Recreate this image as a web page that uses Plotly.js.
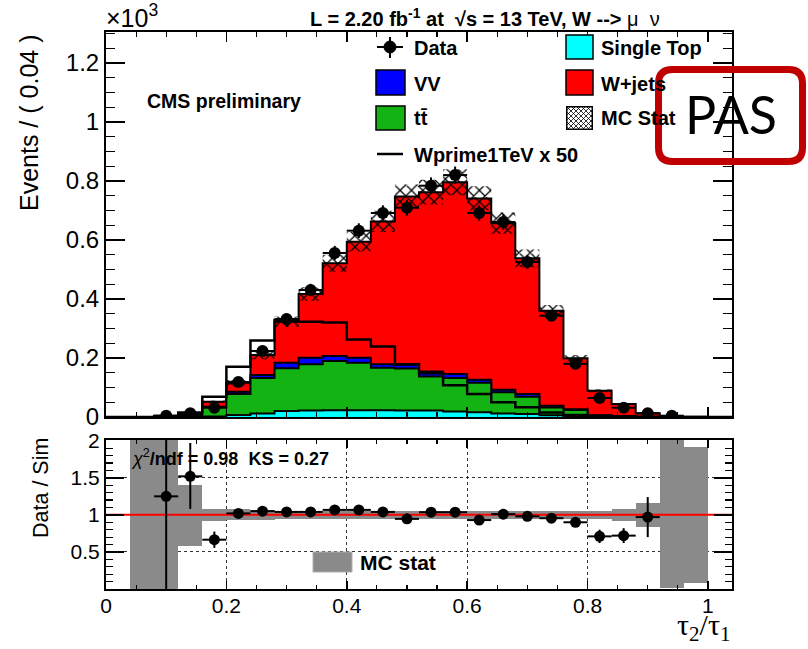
<!DOCTYPE html>
<html><head><meta charset="utf-8">
<script src="https://cdn.plot.ly/plotly-3.0.1.min.js"></script>
<style>html,body{margin:0;padding:0;background:#fff}#plot{width:808px;height:649px}</style>
</head><body><div id="plot"></div>
<script>
// ---------------- data (units of 10^3 events, bins of 0.04 in tau2/tau1) ----------------
const binWidth = 0.04;
const nBins = 26;
const singleTop = [0,0,0,0.0005,0.002,0.007,0.012,0.020,0.022,0.023,0.023,0.023,0.022,0.022,0.019,0.016,0.012,0.010,0.006,0.003,0.001,0,0,0,0,0];
const ttbar     = [0,0,0.001,0.0035,0.031,0.071,0.120,0.145,0.157,0.167,0.161,0.144,0.142,0.115,0.113,0.100,0.072,0.059,0.026,0.021,0.004,0.003,0.001,0,0,0];
const vv        = [0,0,0,0.0005,0.002,0.008,0.010,0.019,0.022,0.017,0.017,0.012,0.013,0.017,0.014,0.010,0.008,0.009,0.006,0.002,0.001,0,0,0,0,0];
const wjets     = [0,0.0003,0.0025,0.0045,0.017,0.030,0.068,0.139,0.216,0.314,0.393,0.484,0.570,0.608,0.650,0.615,0.565,0.460,0.322,0.173,0.083,0.041,0.012,0.001,0.0005,0];
const mcStatErr = [0,0.0003,0.0035,0.0037,0.004,0.009,0.014,0.018,0.023,0.029,0.033,0.036,0.041,0.042,0.044,0.041,0.036,0.030,0.020,0.011,0.005,0.0035,0.002,0.001,0.0005,0];
const wprimeX50 = [0,0,0.003,0.015,0.069,0.170,0.259,0.329,0.323,0.320,0.263,0.239,0.179,0.148,0.108,0.078,0.050,0.033,0.015,0.007,0.002,0.001,0,0,0,0];
const dataVals  = [null,null,0.0044,0.0125,0.0315,0.1186,0.2237,0.332,0.4305,0.556,0.6315,0.6915,0.7095,0.784,0.820,0.6915,0.661,0.5254,0.3434,0.1803,0.0644,0.0315,0.0125,0.0044,null,null];
const dataErr   = [null,null,0.002,0.0035,0.0056,0.011,0.015,0.018,0.021,0.024,0.025,0.026,0.027,0.028,0.029,0.026,0.026,0.023,0.019,0.013,0.008,0.0056,0.0035,0.002,null,null];
const ratioVals    = [null,null,1.25,1.52,0.665,1.02,1.05,1.04,1.04,1.067,1.067,1.04,0.946,1.036,1.036,0.93,1.01,0.98,0.955,0.90,0.71,0.72,0.97,null,null,null];
const ratioErrUp   = [null,null,0.76,0.45,0.11,0.04,0.03,0.025,0.025,0.025,0.025,0.025,0.025,0.025,0.025,0.025,0.025,0.03,0.04,0.05,0.09,0.10,0.27,null,null,null];
const ratioErrDown = [null,null,1.25,0.44,0.11,0.04,0.03,0.025,0.025,0.025,0.025,0.025,0.025,0.025,0.025,0.025,0.025,0.03,0.04,0.05,0.09,0.10,0.27,null,null,null];
const ratioBandLow  = [null,0,0,0.58,0.92,0.925,0.935,0.945,0.945,0.945,0.945,0.945,0.945,0.945,0.945,0.945,0.945,0.945,0.945,0.945,0.945,0.92,0.84,0.02,0.075,null];
const ratioBandHigh = [null,2.01,2.01,1.40,1.08,1.075,1.065,1.055,1.055,1.055,1.055,1.055,1.055,1.055,1.055,1.055,1.055,1.055,1.055,1.055,1.055,1.08,1.165,2.01,1.92,null];

// ---------------- derived bin geometry ----------------
const edges = Array.from({length: nBins + 1}, (_, i) => +(i * binWidth).toFixed(4));
const centers = Array.from({length: nBins}, (_, i) => +((i + 0.5) * binWidth).toFixed(4));
const stepY = arr => arr.concat([arr[arr.length - 1]]);
const cum1 = singleTop.slice();
const cum2 = cum1.map((v, i) => v + ttbar[i]);
const cum3 = cum2.map((v, i) => v + vv[i]);
const cum4 = cum3.map((v, i) => v + wjets[i]);
const hatchLo = cum4.map((v, i) => Math.max(0, v - mcStatErr[i]));
const hatchHi = cum4.map((v, i) => v + mcStatErr[i]);

const F = 'Liberation Sans, Arial, Helvetica, sans-serif';
const stackTrace = (y, color) => ({
  type: 'scatter', x: edges, y: stepY(y), mode: 'lines', line: {shape: 'hv', color: 'black', width: 2},
  fill: 'tozeroy', fillcolor: color, xaxis: 'x', yaxis: 'y', hoverinfo: 'skip', showlegend: false
});

const traces = [
  stackTrace(cum4, '#ff0000'),
  stackTrace(cum3, '#0000ff'),
  stackTrace(cum2, '#13b313'),
  stackTrace(cum1, '#00ffff'),
  {type: 'scatter', x: edges, y: stepY(hatchLo), mode: 'lines', line: {shape: 'hv', width: 0, color: 'rgba(0,0,0,0)'},
   xaxis: 'x', yaxis: 'y', showlegend: false, hoverinfo: 'skip'},
  {type: 'scatter', x: edges, y: stepY(hatchHi), mode: 'lines', line: {shape: 'hv', width: 0, color: 'rgba(0,0,0,0)'},
   fill: 'tonexty', fillcolor: 'rgba(0,0,0,0)',
   fillpattern: {shape: 'x', fgcolor: 'black', bgcolor: 'rgba(0,0,0,0)', size: 8, solidity: 0.3},
   xaxis: 'x', yaxis: 'y', showlegend: false, hoverinfo: 'skip'},
  {type: 'scatter', x: edges, y: stepY(wprimeX50), mode: 'lines', line: {shape: 'hv', color: 'black', width: 2.5},
   xaxis: 'x', yaxis: 'y', showlegend: false},
  {type: 'scatter', x: centers, y: dataVals, mode: 'markers', marker: {color: 'black', size: 12},
   error_y: {type: 'data', array: dataErr, color: 'black', thickness: 2, width: 0},
   error_x: {type: 'constant', value: binWidth / 2, color: 'black', thickness: 2, width: 0},
   xaxis: 'x', yaxis: 'y', showlegend: false},
  // ratio panel
  {type: 'bar', x: centers, base: ratioBandLow, y: ratioBandHigh.map((v, i) => v == null ? null : v - ratioBandLow[i]),
   width: binWidth, marker: {color: '#8a8a8a', line: {width: 0}}, xaxis: 'x2', yaxis: 'y2', showlegend: false},
  {type: 'scatter', x: [0, edges[nBins]], y: [1, 1], mode: 'lines', line: {color: '#ff0000', width: 2},
   xaxis: 'x2', yaxis: 'y2', showlegend: false, hoverinfo: 'skip'},
  {type: 'scatter', x: centers, y: ratioVals, mode: 'markers', marker: {color: 'black', size: 11},
   error_y: {type: 'data', symmetric: false, array: ratioErrUp, arrayminus: ratioErrDown, color: 'black', thickness: 2, width: 0},
   error_x: {type: 'constant', value: binWidth / 2, color: 'black', thickness: 2, width: 0},
   xaxis: 'x2', yaxis: 'y2', showlegend: false}
];

// ---------------- layout helpers (pixel -> paper) ----------------
const L = 106, R = 732, T = 32, B = 589;
const PX = p => (p - L) / (R - L);
const PY = p => (B - p) / (B - T);
const ann = (text, x, y, size, opts = {}) => Object.assign({
  text, xref: 'paper', yref: 'paper', x: PX(x), y: PY(y), showarrow: false,
  xanchor: 'left', yanchor: 'middle', font: {family: F, size, color: 'black'}
}, opts);
const rect = (x0, y0, x1, y1, fill, lw = 1.5, lc = 'black') => ({
  type: 'rect', xref: 'paper', yref: 'paper', x0: PX(x0), x1: PX(x1), y0: PY(y0), y1: PY(y1),
  fillcolor: fill, line: {color: lc, width: lw}, layer: 'above'
});
const seg = (x0, y0, x1, y1, w = 2, c = 'black') => ({
  type: 'line', xref: 'paper', yref: 'paper', x0: PX(x0), x1: PX(x1), y0: PY(y0), y1: PY(y1),
  line: {color: c, width: w}, layer: 'above'
});

// PAS rounded box
const bx0 = 658.5, bx1 = 802.5, by0 = 69.5, by1 = 161.5, rr = 14;
const P = (x, y) => PX(x).toFixed(5) + ',' + PY(y).toFixed(5);
const pasPath = 'M' + P(bx0 + rr, by0) + ' L' + P(bx1 - rr, by0) + ' Q' + P(bx1, by0) + ' ' + P(bx1, by0 + rr) +
  ' L' + P(bx1, by1 - rr) + ' Q' + P(bx1, by1) + ' ' + P(bx1 - rr, by1) +
  ' L' + P(bx0 + rr, by1) + ' Q' + P(bx0, by1) + ' ' + P(bx0, by1 - rr) +
  ' L' + P(bx0, by0 + rr) + ' Q' + P(bx0, by0) + ' ' + P(bx0 + rr, by0) + ' Z';

const hatchSvg = "<svg xmlns='http://www.w3.org/2000/svg' width='54' height='48' viewBox='0 0 27 24'>" +
  "<defs><pattern id='p' width='5' height='5' patternUnits='userSpaceOnUse'><path d='M0,0L5,5M5,0L0,5' stroke='black' stroke-width='0.8'/></pattern></defs>" +
  "<rect x='0' y='0' width='27' height='24' fill='white'/><rect x='0.75' y='0.75' width='25.5' height='22.5' fill='url(#p)' stroke='black' stroke-width='1.5'/></svg>";

const axisCommon = {showline: true, linecolor: 'black', linewidth: 2, mirror: 'allticks', ticks: 'inside',
  tickcolor: 'black', zeroline: false, showgrid: false};

const layout = {
  width: 808, height: 649, paper_bgcolor: 'white', plot_bgcolor: 'white',
  margin: {l: L, r: 808 - R, t: T, b: 649 - B, pad: 0},
  showlegend: false, bargap: 0, barmode: 'overlay',
  font: {family: F, color: 'black'},
  xaxis: Object.assign({}, axisCommon, {domain: [0, 1], range: [0, 1.04], anchor: 'y', showticklabels: false,
    tick0: 0, dtick: 0.2, ticklen: 10, tickwidth: 1.5,
    minor: {dtick: 0.05, ticklen: 5, ticks: 'inside', tickcolor: 'black', tickwidth: 1.2, showgrid: false}}),
  yaxis: Object.assign({}, axisCommon, {domain: [(B - 417) / (B - T), 1], range: [0, 1.305], anchor: 'x',
    tick0: 0, dtick: 0.2, ticklen: 19, tickwidth: 1.5, tickfont: {family: F, size: 24},
    minor: {dtick: 0.05, ticklen: 9, ticks: 'inside', tickcolor: 'black', tickwidth: 1.2, showgrid: false}}),
  xaxis2: Object.assign({}, axisCommon, {domain: [0, 1], range: [0, 1.04], anchor: 'y2',
    tickvals: [0, 0.2, 0.4, 0.6, 0.8, 1], ticktext: ['0', '0.2', '0.4', '0.6', '0.8', '1'],
    ticklen: 8, tickwidth: 1.5, tickfont: {family: F, size: 21}, ticklabelstandoff: -3,
    showgrid: true, gridcolor: 'rgba(0,0,0,0.8)', griddash: 'dot', gridwidth: 1,
    minor: {dtick: 0.05, ticklen: 4, ticks: 'inside', tickcolor: 'black', tickwidth: 1.2, showgrid: false}}),
  yaxis2: Object.assign({}, axisCommon, {domain: [0, (B - 440) / (B - T)], range: [0, 2.01], anchor: 'x2',
    tickvals: [0.5, 1, 1.5, 2], ticktext: ['0.5', '1', '1.5', '2'], ticklen: 18, tickwidth: 1.5,
    tickfont: {family: F, size: 21},
    showgrid: true, gridcolor: 'rgba(0,0,0,0.8)', griddash: 'dot', gridwidth: 1,
    minor: {dtick: 0.1, ticklen: 7, ticks: 'inside', tickcolor: 'black', tickwidth: 1.2, showgrid: false}}),
  shapes: [
    // legend swatches
    seg(377, 47, 403, 47, 2), seg(390, 37, 390, 58, 2),
    {type: 'circle', xref: 'paper', yref: 'paper', x0: PX(384), x1: PX(396), y0: PY(41), y1: PY(53),
     fillcolor: 'black', line: {color: 'black', width: 1}, layer: 'above'},
    rect(376, 70, 405, 95, '#0000ff'),
    rect(376, 106, 405, 130, '#13b313'),
    seg(377, 154, 403, 154, 2.5),
    rect(566, 35, 593, 59, '#00ffff'),
    rect(566, 70, 593, 95, '#ff0000'),
    // ratio legend
    rect(313, 552, 352, 572, '#8a8a8a', 1, '#b0b0b0'),
    // PAS box
    {type: 'path', xref: 'paper', yref: 'paper', path: pasPath, line: {color: '#c00000', width: 7},
     fillcolor: 'rgba(0,0,0,0)', layer: 'above'}
  ],
  images: [{source: 'data:image/svg+xml;charset=utf-8,' + encodeURIComponent(hatchSvg),
    xref: 'paper', yref: 'paper', x: PX(566), y: PY(106), sizex: PX(593) - PX(566), sizey: PY(106) - PY(130),
    xanchor: 'left', yanchor: 'top', sizing: 'stretch', layer: 'above'}],
  annotations: [
    ann('<b>L = 2.20 fb<sup>-1</sup> at  √s = 13 TeV, W --&gt; </b>μ  ν', 485, 17, 20, {xanchor: 'center'}),
    ann('×10<sup>3</sup>', 104, 16, 25),
    ann('<b>CMS preliminary</b>', 145, 101, 19.5),
    ann('<b>Data</b>', 412, 48, 20),
    ann('<b>VV</b>', 412, 84, 20),
    ann('<b>tt\u0304</b>', 412, 118, 20),
    ann('<b>Wprime1TeV x 50</b>', 412, 155, 20),
    ann('<b>Single Top</b>', 599, 48, 20),
    ann('<b>W+jets</b>', 599, 84, 20),
    ann('<b>MC Stat</b>', 599, 118, 20),
    ann('Events / ( 0.04 )', 29, 123, 25, {xanchor: 'center', textangle: -90}),
    ann('Data / Sim', 41, 488, 21.5, {xanchor: 'center', textangle: -90}),
    ann('<i>χ</i><sup>2</sup><b>/ndf = 0.98  KS = 0.27</b>', 129, 457, 18),
    ann('<b>MC stat</b>', 358, 562, 21),
    ann('τ<sub>2</sub>/τ<sub>1</sub>', 732, 648, 30, {xanchor: 'right', yanchor: 'bottom', font: {family: 'Liberation Serif, Times New Roman, serif', size: 30, color: 'black'}}),
    ann('PAS', 731, 114, 52, {xanchor: 'center', font: {family: 'Lato, Carlito, sans-serif', size: 52, color: 'black'}})
  ]
};

Plotly.newPlot('plot', traces, layout, {staticPlot: true, displayModeBar: false});
</script>
</body></html>
